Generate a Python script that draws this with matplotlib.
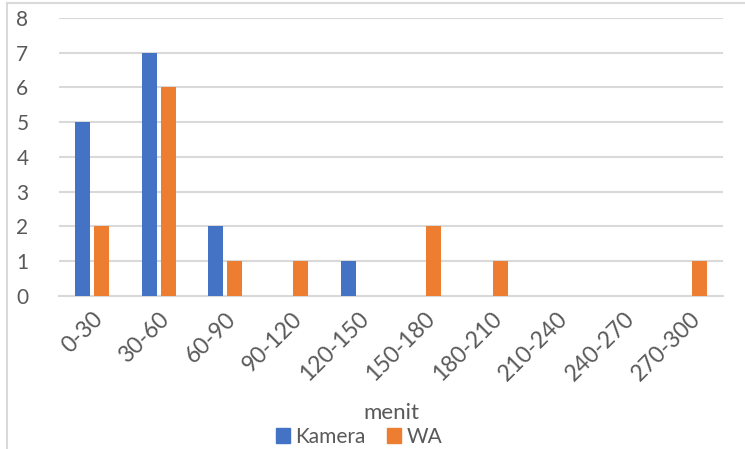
import matplotlib.pyplot as plt
import numpy as np
from matplotlib.lines import Line2D
from matplotlib.patches import Patch

kategori = ["0-30", "30-60", "60-90", "90-120", "120-150", "150-180",
            "180-210", "210-240", "240-270", "270-300"]
kamera = [5, 7, 2, 0, 1, 0, 0, 0, 0, 0]
wa = [2, 6, 1, 1, 0, 2, 1, 0, 0, 1]

BIRU = "#4472c4"
ORANYE = "#ed7d31"
ABU = "#595959"
GRID = "#d9d9d9"

plt.rcParams['font.family'] = ['Lato', 'DejaVu Sans']

fig = plt.figure(figsize=(7.45, 4.49), dpi=100)
ax = fig.add_axes([0.0792, 0.3408, 0.8913, 0.6191])

x = np.arange(len(kategori))
lebar = 0.225
ax.bar(x - 0.143, kamera, lebar, color=BIRU, zorder=3)
ax.bar(x + 0.143, wa, lebar, color=ORANYE, zorder=3)

ax.set_xlim(-0.5, len(kategori) - 0.5)
ax.set_ylim(0, 8)
ax.set_yticks(range(0, 9))
ax.yaxis.grid(True, color=GRID, linewidth=1.5, zorder=0)
ax.set_axisbelow(True)
for s in ["top", "right", "left"]:
    ax.spines[s].set_visible(False)
ax.spines["bottom"].set_color(GRID)
ax.spines["bottom"].set_linewidth(1.5)
ax.tick_params(axis="both", length=0, colors=ABU)
ax.tick_params(axis="y", pad=22, labelsize=15)
ax.set_xticks(x)
ax.set_xticklabels(kategori, rotation=45, ha="right", rotation_mode="anchor")
ax.tick_params(axis="x", pad=9, labelsize=16.5)

# judul sumbu dan legenda
fig.text(391 / 745, 1 - 413 / 449, "menit", ha="center", va="center",
         fontsize=16, color=ABU)
fig.legend(handles=[Patch(color=BIRU, label="Kamera"),
                    Patch(color=ORANYE, label="WA")],
           loc="center", bbox_to_anchor=(359 / 745, 1 - 437 / 449),
           ncol=2, frameon=False, fontsize=15, labelcolor=ABU,
           handlelength=0.7, handleheight=0.7, handletextpad=0.25,
           columnspacing=1.0, borderpad=0)

# bingkai grafik (terpotong di kanan dan bawah)
fig.add_artist(Line2D([7 / 745, 7 / 745], [0, 1 - 3 / 449],
                      transform=fig.transFigure, color=GRID, lw=1.5))
fig.add_artist(Line2D([7 / 745, 1], [1 - 3 / 449, 1 - 3 / 449],
                      transform=fig.transFigure, color=GRID, lw=1.5))

fig.savefig("out.png", dpi=100)
